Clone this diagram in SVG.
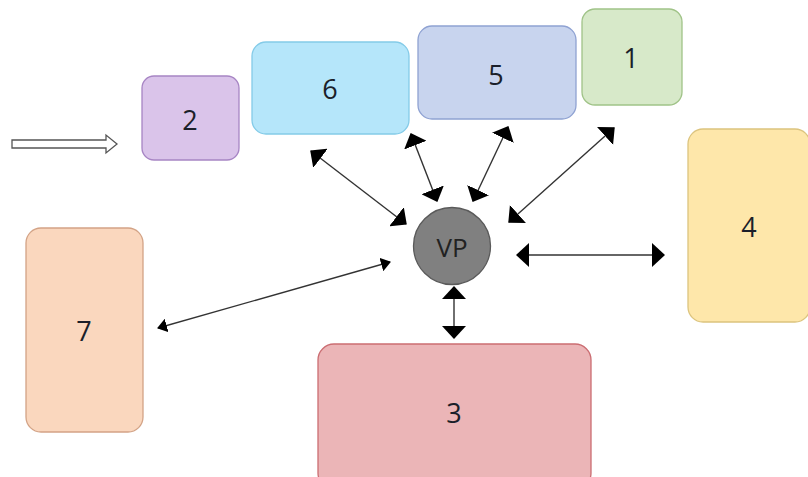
<svg xmlns="http://www.w3.org/2000/svg" width="808" height="477" viewBox="0 0 808 477">
  <style>
    .box { stroke-width: 1.3; }
    .lbl { font-family: "Open Sans", "Liberation Sans", sans-serif; font-size: 27px; font-weight: 500; fill: #1b1f2a; text-anchor: middle; dominant-baseline: central; }
    .conn { stroke: #333; stroke-width: 1.4; fill: none; marker-start: url(#head); marker-end: url(#head); }
    .conn.small { marker-start: url(#headSmall); marker-end: url(#headSmall); }
  </style>
  <defs>
    <marker id="head" viewBox="0 0 13 24" refX="12" refY="12" markerWidth="13" markerHeight="24" markerUnits="userSpaceOnUse" orient="auto-start-reverse">
      <path d="M0,0 L13,12 L0,24 z" fill="#000"/>
    </marker>
    <marker id="headSmall" viewBox="0 0 10 14" refX="9" refY="7" markerWidth="10" markerHeight="14" markerUnits="userSpaceOnUse" orient="auto-start-reverse">
      <path d="M0,0 L10,7 L0,14 z" fill="#000"/>
    </marker>
  </defs>

  <rect width="808" height="477" fill="#fff"/>

  <!-- input arrow -->
  <g id="input-arrow">
    <polygon points="12,140 106,140 106,135 117,144 106,153 106,148 12,148" fill="#fff" stroke="#555" stroke-width="1.3"/>
  </g>

  <!-- nodes -->
  <g id="node-2">
    <rect class="box" x="142" y="76" width="97" height="84" rx="12" fill="#dac4ea" stroke="#a785c4"/>
    <text class="lbl" x="190" y="119">2</text>
  </g>
  <g id="node-6">
    <rect class="box" x="252" y="42" width="157" height="92" rx="14" fill="#b5e6fa" stroke="#84cbe8"/>
    <text class="lbl" x="330" y="88">6</text>
  </g>
  <g id="node-5">
    <rect class="box" x="418" y="26" width="158" height="93" rx="14" fill="#c8d4ee" stroke="#8fa2d2"/>
    <text class="lbl" x="496" y="74">5</text>
  </g>
  <g id="node-1">
    <rect class="box" x="582" y="9" width="100" height="96" rx="13" fill="#d7e9c9" stroke="#a0c388"/>
    <text class="lbl" x="631" y="57">1</text>
  </g>
  <g id="node-4">
    <rect class="box" x="688" y="129" width="122" height="193" rx="15" fill="#fee7aa" stroke="#dcc47e"/>
    <text class="lbl" x="749" y="226">4</text>
  </g>
  <g id="node-7">
    <rect class="box" x="26" y="228" width="117" height="204" rx="15" fill="#fad7be" stroke="#d3a386"/>
    <text class="lbl" x="84" y="330">7</text>
  </g>
  <g id="node-3">
    <rect class="box" x="318" y="344" width="273" height="145" rx="16" fill="#ebb5b7" stroke="#cb6d72"/>
    <text class="lbl" x="454" y="412">3</text>
  </g>
  <g id="node-vp">
    <circle cx="452" cy="246" r="38.5" fill="#808080" stroke="#5a5a5a" stroke-width="1.3"/>
    <text class="lbl" x="452" y="247" style="font-size:26px; fill:#222;">VP</text>
  </g>

  <!-- connectors -->
  <g id="connectors">
    <line class="conn" x1="311" y1="151" x2="406" y2="224"/>
    <line class="conn" x1="411" y1="134" x2="437" y2="201"/>
    <line class="conn" x1="508" y1="127" x2="473" y2="201"/>
    <line class="conn" x1="614" y1="128" x2="509" y2="222"/>
    <line class="conn" x1="517" y1="255" x2="664" y2="255"/>
    <line class="conn" x1="454" y1="287" x2="454" y2="338"/>
    <line class="conn small" x1="158" y1="328" x2="390" y2="262"/>
  </g>
</svg>
